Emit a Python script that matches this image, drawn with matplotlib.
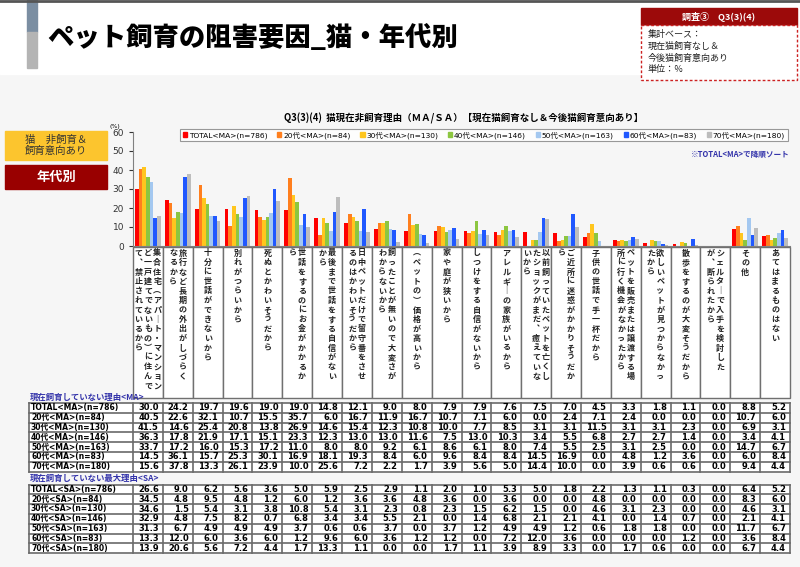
"""
Cat / age group chart: reasons for not keeping a cat now,
with the MA and SA result tables under the bars.
"""

import matplotlib.pyplot as plt
from matplotlib.patches import Rectangle

plt.rcParams['font.family'] = ['Noto Sans CJK JP', 'DejaVu Sans']

W, H = 800, 567

# categories, already split into the vertical text columns (right to left)
REASONS = [
    ["集合住宅（アパート・マンションな", "ど一戸建てでないもの）に住んでい", "て、禁止されているから"],
    ["旅行など長期の外出がしづらく", "なるから"],
    ["十分に世話ができないから"],
    ["別れがつらいから"],
    ["死ぬとかわいそうだから"],
    ["世話をするのにお金がかかるか", "ら"],
    ["最後まで世話をする自信がない", "から"],
    ["日中ペットだけで留守番をさせ", "るのはかわいそうだから"],
    ["飼ったことが無いので大変さが", "わからないから"],
    ["（ペットの）価格が高いから"],
    ["家や庭が狭いから"],
    ["しつけをする自信がないから"],
    ["アレルギーの家族がいるから"],
    ["以前飼っていたペットを亡くし", "たショックがまだ、癒えていな", "いから"],
    ["ご近所に迷惑がかかりそうだか", "ら"],
    ["子供の世話で手一杯だから"],
    ["ペットを販売または譲渡する場", "所に行く機会がなかったから"],
    ["欲しいペットが見つからなかっ", "たから"],
    ["散歩をするのが大変そうだから"],
    ["シェルターで入手を検討した", "が、断られたから"],
    ["その他"],
    ["あてはまるものはない"],
]

MA_LABELS = ["TOTAL<MA>(n=786)", "20代<MA>(n=84)", "30代<MA>(n=130)", "40代<MA>(n=146)",
             "50代<MA>(n=163)", "60代<MA>(n=83)", "70代<MA>(n=180)"]
SA_LABELS = ["TOTAL<SA>(n=786)", "20代<SA>(n=84)", "30代<SA>(n=130)", "40代<SA>(n=146)",
             "50代<SA>(n=163)", "60代<SA>(n=83)", "70代<SA>(n=180)"]

ma_total = [30.0, 24.2, 19.7, 19.6, 19.0, 19.0, 14.8, 12.1, 9.0, 8.0, 7.9, 7.9, 7.6, 7.5, 7.0, 4.5, 3.3, 1.8, 1.1, 0.0, 8.8, 5.2]
ma_20s = [40.5, 22.6, 32.1, 10.7, 15.5, 35.7, 6.0, 16.7, 11.9, 16.7, 10.7, 7.1, 6.0, 0.0, 2.4, 7.1, 2.4, 0.0, 0.0, 0.0, 10.7, 6.0]
ma_30s = [41.5, 14.6, 25.4, 20.8, 13.8, 26.9, 14.6, 15.4, 12.3, 10.8, 10.0, 7.7, 8.5, 3.1, 3.1, 11.5, 3.1, 3.1, 2.3, 0.0, 6.9, 3.1]
ma_40s = [36.3, 17.8, 21.9, 17.1, 15.1, 23.3, 12.3, 13.0, 13.0, 11.6, 7.5, 13.0, 10.3, 3.4, 5.5, 6.8, 2.7, 2.7, 1.4, 0.0, 3.4, 4.1]
ma_50s = [33.7, 17.2, 16.0, 15.3, 17.2, 11.0, 8.0, 8.0, 9.2, 6.1, 8.6, 6.1, 8.0, 7.4, 5.5, 2.5, 3.1, 2.5, 0.0, 0.0, 14.7, 6.7]
ma_60s = [14.5, 36.1, 15.7, 25.3, 30.1, 16.9, 18.1, 19.3, 8.4, 6.0, 9.6, 8.4, 8.4, 14.5, 16.9, 0.0, 4.8, 1.2, 3.6, 0.0, 6.0, 8.4]
ma_70s = [15.6, 37.8, 13.3, 26.1, 23.9, 10.0, 25.6, 7.2, 2.2, 1.7, 3.9, 5.6, 5.0, 14.4, 10.0, 0.0, 3.9, 0.6, 0.6, 0.0, 9.4, 4.4]

sa_total = [26.6, 9.0, 6.2, 5.6, 3.6, 5.0, 5.9, 2.5, 2.9, 1.1, 2.0, 1.0, 5.3, 5.0, 1.8, 2.2, 1.3, 1.1, 0.3, 0.0, 6.4, 5.2]
sa_20s = [34.5, 4.8, 9.5, 4.8, 1.2, 6.0, 1.2, 3.6, 3.6, 4.8, 3.6, 0.0, 3.6, 0.0, 0.0, 4.8, 0.0, 0.0, 0.0, 0.0, 8.3, 6.0]
sa_30s = [34.6, 1.5, 5.4, 3.1, 3.8, 10.8, 5.4, 3.1, 2.3, 0.8, 2.3, 1.5, 6.2, 1.5, 0.0, 4.6, 3.1, 2.3, 0.0, 0.0, 4.6, 3.1]
sa_40s = [32.9, 4.8, 7.5, 8.2, 0.7, 6.8, 3.4, 3.4, 5.5, 2.1, 0.0, 1.4, 6.8, 2.1, 2.1, 4.1, 0.0, 1.4, 0.7, 0.0, 2.1, 4.1]
sa_50s = [31.3, 6.7, 4.9, 4.9, 4.9, 3.7, 0.6, 0.6, 3.7, 0.0, 3.7, 1.2, 4.9, 4.9, 1.2, 0.6, 1.8, 1.8, 0.0, 0.0, 11.7, 6.7]
sa_60s = [13.3, 12.0, 6.0, 3.6, 6.0, 1.2, 9.6, 6.0, 3.6, 1.2, 1.2, 0.0, 7.2, 12.0, 3.6, 0.0, 0.0, 0.0, 1.2, 0.0, 3.6, 8.4]
sa_70s = [13.9, 20.6, 5.6, 7.2, 4.4, 1.7, 13.3, 1.1, 0.0, 0.0, 1.7, 1.1, 3.9, 8.9, 3.3, 0.0, 1.7, 0.6, 0.0, 0.0, 6.7, 4.4]

MA_ROWS = [ma_total, ma_20s, ma_30s, ma_40s, ma_50s, ma_60s, ma_70s]
SA_ROWS = [sa_total, sa_20s, sa_30s, sa_40s, sa_50s, sa_60s, sa_70s]

COLORS = ['#ff0000', '#ff7f1e', '#ffc61e', '#8cc640', '#a4c8f0', '#2058ff', '#bdbdbd']

# layout in pixels
X0, X1 = 133, 790
CW = (X1 - X0) / len(ma_total)
AX_TOP, AX_BOTTOM = 132, 246
NAVY = '#3333aa'
NUM_FONT = ['DejaVu Sans', 'Noto Sans CJK JP']

# vertical forms for the x label text
VERT = {'ー': '｜', '（': '︵', '）': '︶', '、': '︑'}


def draw_header(ov):
    """Title bar, strip on the left and the red info box."""
    ov.add_patch(Rectangle((0, 0), W, 74, color='white', zorder=0))
    ov.plot([0, W], [1, 1], color='#555555', lw=2)
    ov.add_patch(Rectangle((27, 0), 10, 32, color='#7b8ea2'))
    ov.add_patch(Rectangle((27, 32), 10, 36, color='#b4b4b4'))
    ov.text(47, 38, "ペット飼育の阻害要因_猫・年代別", fontsize=19, fontweight='heavy',
            ha='left', va='center')

    ov.add_patch(Rectangle((641, 8), 156, 17, color='#9c0a0a'))
    ov.text(719, 16.5, "調査③　Q3(3)(4)", color='white', fontsize=6.5, fontweight='bold',
            ha='center', va='center')
    ov.add_patch(Rectangle((641, 25), 156, 55, facecolor='white', edgecolor='#cc2222',
                           lw=1, ls=(0, (2, 1.5))))
    for i, line in enumerate(["集計ベース：", "現在猫飼育なし＆", "今後猫飼育意向あり", "単位：％"]):
        ov.text(648, 35 + i * 11.5, line, fontsize=6.5, ha='left', va='center', color='#222222')


def draw_side_boxes(ov):
    ov.add_patch(Rectangle((5, 131), 102, 29, color='#fcc52e'))
    ov.text(56, 145.5, "猫　非飼育＆\n飼育意向あり", fontsize=7.5, ha='center', va='center',
            color='#333333', linespacing=1.2)
    ov.add_patch(Rectangle((5, 165), 102, 24, color='#990000'))
    ov.text(56, 177, "年代別", fontsize=9.5, fontweight='bold', ha='center', va='center',
            color='white')


def draw_bars(fig):
    ax = fig.add_axes([X0 / W, 1 - AX_BOTTOM / H, (X1 - X0) / W, (AX_BOTTOM - AX_TOP) / H])
    ax.set_facecolor('none')
    n = len(MA_ROWS)
    bw = 0.122
    xs = range(len(ma_total))
    for k, (vals, col, lab) in enumerate(zip(MA_ROWS, COLORS, MA_LABELS)):
        off = (k - (n - 1) / 2) * bw
        ax.bar([x + off for x in xs], vals, width=bw, color=col, label=lab, zorder=2)
    ax.set_xlim(-0.5, len(ma_total) - 0.5)
    ax.set_ylim(0, 60)
    ax.set_yticks(range(0, 61, 10))
    ax.set_xticks([])
    ax.tick_params(axis='y', labelsize=6.5, colors='#333333', length=3, width=0.8)
    for lab in ax.get_yticklabels():
        lab.set_family(NUM_FONT)
    for s in ['top', 'right']:
        ax.spines[s].set_visible(False)
    for s in ['left', 'bottom']:
        ax.spines[s].set_color('#808080')
    ax.text(-0.02, 1.03, "(%)", transform=ax.transAxes, fontsize=4.5, ha='right', va='bottom',
            family=NUM_FONT)

    handles = [Rectangle((0, 0), 1, 1, color=c) for c in COLORS]
    leg = fig.legend(handles, MA_LABELS, ncol=7, loc='center',
                     bbox_to_anchor=(484 / W, 1 - 135 / H), frameon=True,
                     fancybox=False, edgecolor='#808080', handlelength=0.55, handleheight=0.55,
                     handletextpad=0.25, columnspacing=1.3, borderpad=0.35,
                     prop={'family': NUM_FONT, 'size': 5.4})
    leg.get_frame().set_linewidth(0.8)
    return ax


def draw_reason_cells(ov):
    top, bottom = 247, 398
    dy = 9.5
    for i, lines in enumerate(REASONS):
        left = X0 + i * CW
        ov.add_patch(Rectangle((left, top), CW, bottom - top, facecolor='white',
                               edgecolor='#707070', lw=1))
        cx = left + CW / 2
        k = len(lines)
        for j, line in enumerate(lines):
            x = cx + ((k - 1) / 2 - j) * 9.3
            for c, ch in enumerate(line):
                y = top + 6 + c * dy
                if y > bottom - 3:
                    break
                ov.text(x, y, VERT.get(ch, ch), fontsize=5.8, fontweight='bold',
                        ha='center', va='center', color='#222222')


def draw_table(ov, top, title, labels, rows):
    row_h = 9.8
    ov.text(30, top - 6, title, fontsize=6, fontweight='bold', color=NAVY,
            ha='left', va='center')
    bottom = top + len(rows) * row_h
    ov.add_patch(Rectangle((29, top), X1 - 29, bottom - top, color='white'))
    for r, (lab, vals) in enumerate(zip(labels, rows)):
        yc = top + (r + 0.5) * row_h
        ov.text(31, yc, lab, fontsize=5.5, fontweight='bold', family=NUM_FONT,
                ha='left', va='center')
        for c, v in enumerate(vals):
            ov.text(X0 + (c + 1) * CW - 4, yc, f"{v:.1f}", fontsize=6, fontweight='bold',
                    family=NUM_FONT, ha='right', va='center')
    for r in range(len(rows) + 1):
        ov.plot([29, X1], [top + r * row_h] * 2, color='#6a6a6a', lw=1.2)
    ov.plot([29, 29], [top, bottom], color='#6a6a6a', lw=1.2)
    for c in range(len(rows[0]) + 1):
        ov.plot([X0 + c * CW] * 2, [top, bottom], color='#6a6a6a', lw=1.2)


def main():
    fig = plt.figure(figsize=(W / 100, H / 100), dpi=100, facecolor='#f6f6f6')
    ov = fig.add_axes([0, 0, 1, 1], zorder=0)
    ov.set_xlim(0, W)
    ov.set_ylim(H, 0)
    ov.axis('off')

    draw_header(ov)
    draw_side_boxes(ov)
    ov.text(464, 118, "Q3(3)(4)  猫現在非飼育理由（ＭＡ/ＳＡ）【現在猫飼育なし＆今後猫飼育意向あり】",
            fontsize=6.8, fontweight='bold', ha='center', va='center')
    ov.text(790, 155, "※TOTAL<MA>で降順ソート", fontsize=5.5, fontweight='bold', color=NAVY,
            ha='right', va='center')

    ax = draw_bars(fig)
    ax.set_zorder(1)
    draw_reason_cells(ov)
    draw_table(ov, 403, "現在飼育していない理由<MA>", MA_LABELS, MA_ROWS)
    draw_table(ov, 484.5, "現在飼育していない最大理由<SA>", SA_LABELS, SA_ROWS)

    fig.savefig("out.png", dpi=100, facecolor=fig.get_facecolor())


if __name__ == "__main__":
    main()
